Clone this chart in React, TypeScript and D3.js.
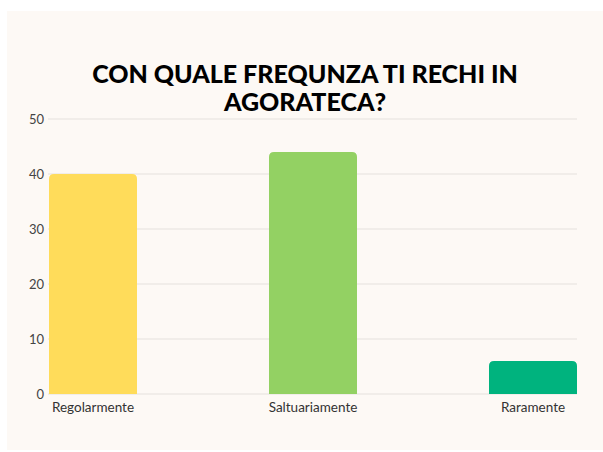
import React, { useEffect, useRef } from 'react';
import * as d3 from 'd3';

const categories = ['Regolarmente', 'Saltuariamente', 'Raramente'];
const values = [40, 44, 6];
const barColors = ['#FFDC5A', '#93D163', '#00B37E'];
const yTicks = [0, 10, 20, 30, 40, 50];
const titleLines = ['CON QUALE FREQUNZA TI RECHI IN', 'AGORATECA?'];

const App = () => {
  const svgRef = useRef(null);

  useEffect(() => {
    const width = 603;
    const height = 452;
    const svg = d3.select(svgRef.current);
    svg.selectAll('*').remove();

    svg.attr('width', width).attr('height', height);

    // sfondo crema
    svg
      .append('rect')
      .attr('x', 7)
      .attr('y', 11)
      .attr('width', width - 7)
      .attr('height', 439)
      .attr('fill', '#FDF9F5');

    // titolo
    svg
      .append('g')
      .selectAll('text')
      .data(titleLines)
      .enter()
      .append('text')
      .attr('x', 305)
      .attr('y', (d, i) => 83 + i * 28)
      .attr('text-anchor', 'middle')
      .attr('font-family', 'Lato, sans-serif')
      .attr('font-weight', 900)
      .attr('font-size', 25)
      .attr('fill', '#000')
      .text((d) => d);

    const x = d3
      .scaleBand()
      .domain(categories)
      .range([49, 577])
      .paddingInner(0.6)
      .paddingOuter(0);

    const y = d3.scaleLinear().domain([0, 50]).range([394, 119]);

    // griglia
    svg
      .append('g')
      .selectAll('line')
      .data(yTicks)
      .enter()
      .append('line')
      .attr('x1', 48)
      .attr('x2', 577)
      .attr('y1', (d) => y(d))
      .attr('y2', (d) => y(d))
      .attr('stroke', '#E6E2DE')
      .attr('stroke-width', 1.2);

    // etichette asse y
    svg
      .append('g')
      .selectAll('text')
      .data(yTicks)
      .enter()
      .append('text')
      .attr('x', 44)
      .attr('y', (d) => y(d))
      .attr('dy', '0.35em')
      .attr('text-anchor', 'end')
      .attr('font-family', 'Lato, sans-serif')
      .attr('font-size', 13)
      .attr('fill', '#444')
      .text((d) => d);

    // barre con angoli superiori arrotondati
    const r = 5;
    svg
      .append('g')
      .selectAll('path')
      .data(values)
      .enter()
      .append('path')
      .attr('d', (d, i) => {
        const x0 = x(categories[i]);
        const x1 = x0 + x.bandwidth();
        const y0 = y(0);
        const y1 = y(d);
        return `M${x0},${y0}V${y1 + r}Q${x0},${y1} ${x0 + r},${y1}H${x1 - r}Q${x1},${y1} ${x1},${y1 + r}V${y0}Z`;
      })
      .attr('fill', (d, i) => barColors[i]);

    // etichette asse x
    svg
      .append('g')
      .selectAll('text')
      .data(categories)
      .enter()
      .append('text')
      .attr('x', (d) => x(d) + x.bandwidth() / 2)
      .attr('y', 407)
      .attr('dy', '0.35em')
      .attr('text-anchor', 'middle')
      .attr('font-family', 'Lato, sans-serif')
      .attr('font-size', 13.5)
      .attr('fill', '#333')
      .text((d) => d);
  }, []);

  return (
    <div style={{ position: 'absolute', left: 0, top: 0 }}>
      <svg ref={svgRef} style={{ display: 'block', background: '#fff' }}></svg>
    </div>
  );
};

export default App;
